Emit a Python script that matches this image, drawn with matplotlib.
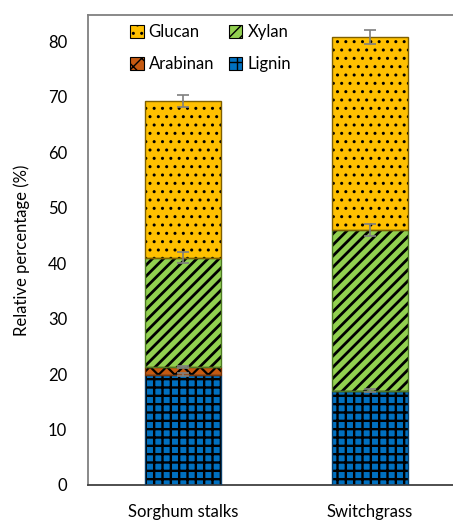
import numpy as np
import matplotlib
matplotlib.use("Agg")
import matplotlib.pyplot as plt
from matplotlib.patches import Patch

plt.rcParams['font.family'] = ['Lato', 'DejaVu Sans']
plt.rcParams['font.size'] = 12

# composition of the two feedstocks (%)
feedstocks = ['Sorghum stalks', 'Switchgrass']
lignin = [19.9, 17.0]
arabinan = [1.4, 0.0]
xylan = [19.7, 29.0]
glucan = [28.3, 34.8]

lignin_err = [0.3, 0.3]
arabinan_err = [0.2, 0.0]
xylan_err = [1.0, 1.1]
glucan_err = [1.1, 1.2]

fig = plt.figure(figsize=(4.53, 5.23), dpi=100)
ax = fig.add_axes([0.194, 0.0727, 0.806, 0.8987])

x = np.arange(len(feedstocks))
w = 0.41

# (name, values, errors, face colour, edge colour, hatch, hatch line width)
layers = [
    ('Lignin', lignin, lignin_err, '#0070C0', '#0a3f6b', '++', 1.7),
    ('Arabinan', arabinan, arabinan_err, '#C55A11', '#7a3608', 'xx', 1.6),
    ('Xylan', xylan, xylan_err, '#92D050', '#4d7a24', '///', 2.0),
    ('Glucan', glucan, glucan_err, '#FFC000', '#7f6000', '..', 1.0),
]

bottom = np.zeros(len(x))
handles = {}
for name, vals, errs, fc, ec, hatch, hlw in layers:
    # hatch width is picked up when the patches are created
    plt.rcParams['hatch.linewidth'] = hlw
    vals = np.array(vals)
    ax.bar(x, vals, w, bottom=bottom, color=fc, edgecolor='black',
           hatch=hatch, linewidth=0, zorder=2)
    ax.bar(x, vals, w, bottom=bottom, fill=False, edgecolor=ec,
           linewidth=1.0, zorder=3)
    top = bottom + vals
    shown = vals > 0
    ax.errorbar(x[shown], top[shown], yerr=np.array(errs)[shown], fmt='none',
                ecolor='#7f7f7f', elinewidth=1.2, capsize=4, capthick=1.2,
                zorder=4)
    handles[name] = Patch(facecolor=fc, edgecolor='black', hatch=hatch,
                          linewidth=0.8)
    bottom = top

ax.set_xlim(-0.508, 1.444)
ax.set_ylim(0, 84.8)
ax.set_yticks(range(0, 81, 10))
ax.set_xticks(x)
ax.set_xticklabels(feedstocks)
ax.tick_params(length=0)
ax.tick_params(axis='y', pad=15)
ax.tick_params(axis='x', pad=14)
ax.set_ylabel('Relative percentage (%)', labelpad=13)

for side in ['left', 'bottom', 'top']:
    ax.spines[side].set_color('#808080')
    ax.spines[side].set_linewidth(1.3)
ax.spines['bottom'].set_color('#404040')
ax.spines['right'].set_visible(False)

order = ['Glucan', 'Arabinan', 'Xylan', 'Lignin']
ax.legend([handles[n] for n in order], order, ncol=2, frameon=False,
          loc='upper left', bbox_to_anchor=(0.075, 1.012),
          handlelength=0.8, handleheight=0.8, handletextpad=0.3,
          columnspacing=0.9, labelspacing=0.95)

fig.savefig('out.png', dpi=100)
